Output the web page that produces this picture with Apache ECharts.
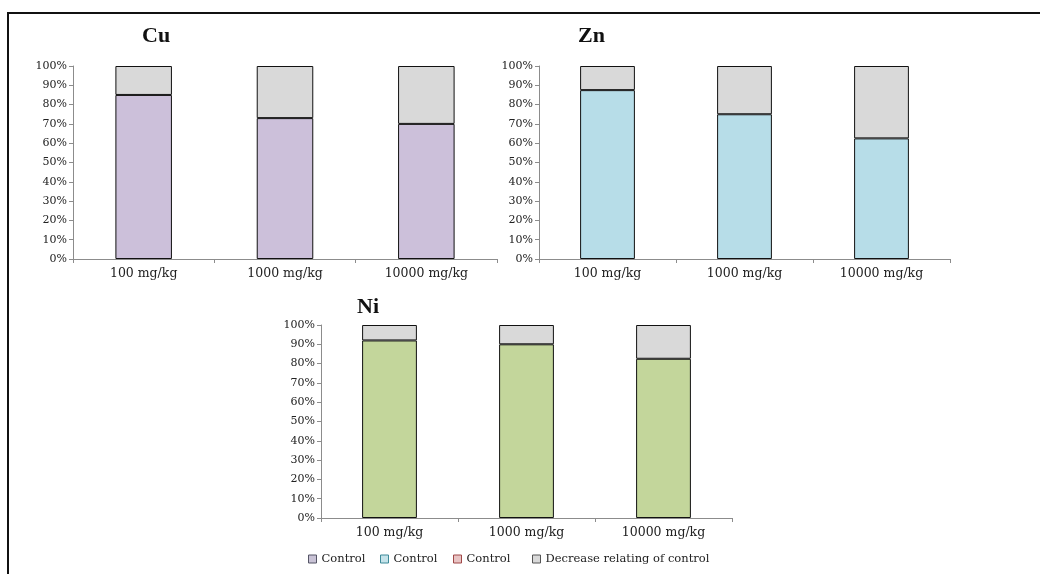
<!DOCTYPE html>
<html>
<head>
<meta charset="utf-8">
<script src="https://cdn.jsdelivr.net/npm/echarts@6/dist/echarts.min.js"></script>
<style>
  html, body { margin: 0; padding: 0; background: #ffffff; }
  #chart { width: 1040px; height: 574px; }
</style>
</head>
<body>
<div id="chart"></div>
<script>
// Doses applied to the soil
const doses = ['100 mg/kg', '1000 mg/kg', '10000 mg/kg'];
const yTicks = [0, 10, 20, 30, 40, 50, 60, 70, 80, 90, 100];

// Share of control (%) and decrease relative to control (%) per metal
const cuControl = [85, 73, 70];
const cuDecrease = [15, 27, 30];
const znControl = [87.5, 75, 62.5];
const znDecrease = [12.5, 25, 37.5];
const niControl = [92, 90, 82.5];
const niDecrease = [8, 10, 17.5];

// Legend labels (the three "Control" entries are kept distinct by trailing spaces)
const legendNames = ['Control', 'Control ', 'Control  ', 'Decrease relating of control'];

const SERIF = '"DejaVu Serif", "Liberation Serif", serif';
const TITLE_FONT = '"Liberation Serif", "Times New Roman", serif';

const colors = {
  cu: '#ccc0da',
  zn: '#b7dde8',
  ni: '#c3d69b',
  pink: '#e6b9b8',
  grey: '#d9d9d9'
};

const panels = [
  { title: 'Cu', titlePos: [142, 25], grid: { left: 73, top: 66, width: 424, height: 193 }, ctrl: cuControl, dec: cuDecrease, color: colors.cu, name: legendNames[0] },
  { title: 'Zn', titlePos: [578, 25], grid: { left: 539, top: 66, width: 411, height: 193 }, ctrl: znControl, dec: znDecrease, color: colors.zn, name: legendNames[1] },
  { title: 'Ni', titlePos: [357, 296], grid: { left: 321, top: 325, width: 411, height: 193 }, ctrl: niControl, dec: niDecrease, color: colors.ni, name: 'Ni control' }
];

const grids = [], xAxes = [], yAxes = [], series = [];
panels.forEach((p, i) => {
  grids.push(Object.assign({ containLabel: false }, p.grid));
  xAxes.push({
    type: 'category',
    gridIndex: i,
    data: doses,
    boundaryGap: true,
    axisLine: { lineStyle: { color: '#8c8c8c', width: 1 } },
    axisTick: { show: true, alignWithLabel: false, length: 4, lineStyle: { color: '#8c8c8c' } },
    axisLabel: { color: '#222', fontFamily: SERIF, fontSize: 12.5, margin: 8 }
  });
  yAxes.push({
    type: 'value',
    gridIndex: i,
    min: yTicks[0],
    max: yTicks[yTicks.length - 1],
    interval: yTicks[1] - yTicks[0],
    splitLine: { show: false },
    axisLine: { show: true, lineStyle: { color: '#8c8c8c', width: 1 } },
    axisTick: { show: true, length: 4, lineStyle: { color: '#8c8c8c' } },
    axisLabel: { formatter: '{value}%', color: '#222', fontFamily: SERIF, fontSize: 11, margin: 6 }
  });
  series.push({
    type: 'bar',
    name: p.name,
    xAxisIndex: i,
    yAxisIndex: i,
    stack: 'metal' + i,
    barWidth: '40%',
    data: p.ctrl,
    itemStyle: { color: p.color, borderColor: '#111', borderWidth: 1 }
  });
  series.push({
    type: 'bar',
    name: legendNames[3],
    xAxisIndex: i,
    yAxisIndex: i,
    stack: 'metal' + i,
    barWidth: '40%',
    data: p.dec,
    itemStyle: { color: colors.grey, borderColor: '#111', borderWidth: 1 }
  });
});

// Empty series so the third legend entry has a swatch
series.push({
  type: 'bar',
  name: legendNames[2],
  xAxisIndex: 2,
  yAxisIndex: 2,
  stack: 'metal2',
  data: [],
  itemStyle: { color: colors.pink }
});

const legendItem = (name, left, fill, border) => ({
  left: left,
  top: 553,
  orient: 'horizontal',
  itemWidth: 8,
  itemHeight: 8,
  itemGap: 4,
  selectedMode: false,
  icon: 'rect',
  data: [{ name: name, itemStyle: { color: fill, borderColor: border, borderWidth: 1 } }],
  textStyle: { fontFamily: SERIF, fontSize: 11.5, color: '#222', padding: 0 },
  padding: 0
});

const option = {
  backgroundColor: '#ffffff',
  animation: false,
  title: panels.map(p => ({
    text: p.title,
    left: p.titlePos[0],
    top: p.titlePos[1],
    padding: 0,
    textStyle: { fontFamily: TITLE_FONT, fontSize: 22, fontWeight: 'bold', color: '#111' }
  })),
  legend: [
    legendItem(legendNames[0], 308, '#c9c3d6', '#555566'),
    legendItem(legendNames[1], 380, '#c5e3ea', '#3d8a99'),
    legendItem(legendNames[2], 453, '#e8c4c4', '#a04848'),
    legendItem(legendNames[3], 532, '#d9d9d9', '#555555')
  ],
  grid: grids,
  xAxis: xAxes,
  yAxis: yAxes,
  series: series,
  graphic: [
    {
      type: 'polyline',
      shape: { points: [[8, 600], [8, 13], [1060, 13]] },
      style: { fill: null, stroke: '#111', lineWidth: 2 },
      silent: true
    }
  ]
};

const chart = echarts.init(document.getElementById('chart'), null, { renderer: 'canvas' });
chart.setOption(option);
</script>
</body>
</html>
